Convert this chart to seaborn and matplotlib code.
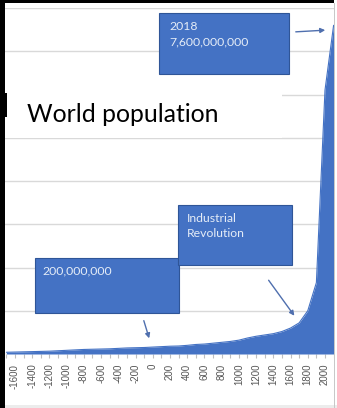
import numpy as np
import pandas as pd
import seaborn as sns
import matplotlib
matplotlib.use("Agg")
import matplotlib.pyplot as plt
from matplotlib.patches import Rectangle, FancyArrowPatch

# ---- data (world population, billions) ----
years = [-1700, -1600, -1500, -1400, -1300, -1200, -1100, -1000, -900, -800,
         -700, -600, -500, -400, -300, -200, -100, 0, 100, 200,
         300, 400, 500, 600, 700, 800, 900, 1000, 1100, 1200,
         1300, 1400, 1500, 1600, 1700, 1800, 1900, 2000, 2018]
population_bn = [0.04, 0.045, 0.05, 0.055, 0.06, 0.065, 0.075, 0.085, 0.095, 0.105,
                 0.11, 0.115, 0.12, 0.13, 0.14, 0.145, 0.15, 0.16, 0.17, 0.18,
                 0.185, 0.20, 0.22, 0.23, 0.25, 0.27, 0.29, 0.32, 0.37, 0.41,
                 0.44, 0.47, 0.52, 0.60, 0.72, 1.0, 1.65, 6.1, 7.6]
tick_years = list(range(-1600, 2001, 200))
tick_labels = [str(y) for y in tick_years]
title_text = "World population"
box_2018 = "2018\n7,600,000,000"
box_industrial = "Industrial\nRevolution"
box_200m = "200,000,000"

W, H = 337, 408
BLUE = "#4472c4"
EDGE = "#2f5597"
ARROW = "#4f6fae"

sns.set_theme(style="white")
plt.rcParams["font.family"] = ["Lato", "DejaVu Sans"]

df = pd.DataFrame({"pos": np.arange(len(years)), "year": years, "pop": population_bn})

fig = plt.figure(figsize=(W / 100, H / 100), dpi=100)
fig.patch.set_facecolor("white")

def fx(x):
    return x / W

def fy(y):
    return 1 - y / H

ax = fig.add_axes([0, fy(354), 333.6 / W, (354 - 8) / H])
ax.set_facecolor("white")
ax.fill_between(df["pos"], df["pop"], 0, color=BLUE, lw=0, zorder=3)
sns.lineplot(data=df, x="pos", y="pop", color=BLUE, lw=0.8, ax=ax, zorder=3)
ax.set_xlim(-0.742, len(years) - 1)
ax.set_ylim(0, 8)
ax.set_yticks(range(0, 9))
ax.yaxis.grid(True, color="#d9d9d9", lw=1)
ax.set_axisbelow(True)
ax.tick_params(axis="y", left=False, labelleft=False)
ticks_pos = [years.index(y) for y in tick_years]
ax.set_xticks(ticks_pos)
ax.set_xticklabels(tick_labels, rotation=90, fontsize=7, color="#555555",
                   family=["Liberation Sans Narrow", "Liberation Sans", "DejaVu Sans"])
ax.set_xticks(df["pos"], minor=True)
ax.tick_params(axis="x", which="both", bottom=True, length=3, width=0.8,
               color="#bfbfbf", pad=4)
for s in ax.spines.values():
    s.set_visible(False)
ax.set_xlabel("")
ax.set_ylabel("")

# title with white background
fig.add_artist(Rectangle((fx(5), fy(138)), fx(282) - fx(5), fy(75) - fy(138),
                         transform=fig.transFigure, color="white", lw=0, zorder=5))
fig.text(fx(27), fy(115), title_text, fontsize=17.8, color="black",
         ha="left", va="center", zorder=6)

def box(x0, y0, x1, y1, text, tx, ty):
    fig.add_artist(Rectangle((fx(x0), fy(y1)), fx(x1) - fx(x0), fy(y0) - fy(y1),
                             transform=fig.transFigure, facecolor=BLUE,
                             edgecolor=EDGE, lw=0.8, zorder=7))
    fig.text(fx(tx), fy(ty), text, fontsize=8.8, color="#e4ecf7", ha="left",
             va="top", linespacing=1.45, zorder=8)

box(159, 13, 289, 74, box_2018, 169, 21)
box(35, 258, 179, 313, box_200m, 42, 265)
box(178, 205, 292, 265, box_industrial, 187, 213)

def arrow(x0, y0, x1, y1):
    fig.add_artist(FancyArrowPatch((fx(x0), fy(y0)), (fx(x1), fy(y1)),
                                   transform=fig.transFigure, arrowstyle="-|>",
                                   mutation_scale=7, color=ARROW, lw=1, zorder=9))

arrow(293, 32, 328, 30)
arrow(267, 278, 296, 318)
arrow(143, 318, 150, 341)

# frame of the screenshot
fig.add_artist(Rectangle((0, 0), fx(5), 1, transform=fig.transFigure,
                         color="black", lw=0, zorder=10))
fig.add_artist(Rectangle((0, fy(3)), 1, 3 / H, transform=fig.transFigure,
                         color="black", lw=0, zorder=10))
fig.add_artist(Rectangle((0, fy(117)), fx(7), 24 / H, transform=fig.transFigure,
                         color="black", lw=0, zorder=10))
fig.add_artist(Rectangle((fx(333.6), 0), 1 - fx(333.6), 1, transform=fig.transFigure,
                         color="white", lw=0, zorder=10))
fig.add_artist(Rectangle((fx(333.6), 0), 1.2 / W, fy(3), transform=fig.transFigure,
                         color="#c8c8c8", lw=0, zorder=11))
fig.add_artist(Rectangle((fx(5), 0), 1, 3 / H, transform=fig.transFigure,
                         color="#ececec", lw=0, zorder=10))

fig.savefig("out.png", dpi=100, facecolor="white")
